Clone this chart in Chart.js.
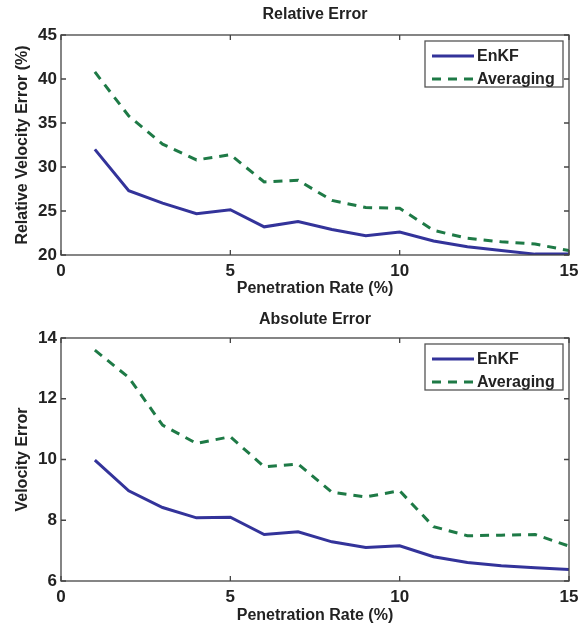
<!DOCTYPE html>
<html>
<head>
<meta charset="utf-8">
<script src="https://cdn.jsdelivr.net/npm/chart.js@4/dist/chart.umd.min.js"></script>
<style>
  html, body { margin: 0; padding: 0; background: #fff; }
  #w1 { position: absolute; left: 0; top: 0; width: 585px; height: 305px; }
  #w2 { position: absolute; left: 0; top: 305px; width: 585px; height: 322px; }
</style>
</head>
<body>
<div id="w1"><canvas id="c1"></canvas></div>
<div id="w2"><canvas id="c2"></canvas></div>
<script>
// ---- data ----
const penetrationRate = [1, 2, 3, 4, 5, 6, 7, 8, 9, 10, 11, 12, 13, 14, 15];
const relEnKF      = [32.0, 27.3, 25.9, 24.7, 25.15, 23.2, 23.8, 22.9, 22.2, 22.6, 21.6, 20.95, 20.5, 20.1, 20.1];
const relAveraging = [40.8, 35.8, 32.6, 30.8, 31.4, 28.3, 28.5, 26.2, 25.4, 25.3, 22.8, 21.9, 21.5, 21.25, 20.5];
const absEnKF      = [9.98, 8.97, 8.42, 8.08, 8.1, 7.53, 7.62, 7.29, 7.1, 7.16, 6.8, 6.61, 6.5, 6.44, 6.38];
const absAveraging = [13.6, 12.7, 11.13, 10.53, 10.75, 9.76, 9.85, 8.92, 8.77, 8.97, 7.79, 7.49, 7.51, 7.53, 7.15];
const seriesNames = ['EnKF', 'Averaging'];
const xTitle = 'Penetration Rate (%)';

const FONT = "'Liberation Sans', Arial, sans-serif";
const BLUE = '#33339a';
const GREEN = '#1e7a46';

function pts(ys) { return penetrationRate.map((x, i) => ({ x: x, y: ys[i] })); }

const framePlugin = {
  id: 'frame',
  afterDraw(chart, args, opts) {
    const ctx = chart.ctx, a = chart.chartArea;
    ctx.save();
    // title
    ctx.fillStyle = '#222';
    ctx.font = 'bold 16px ' + FONT;
    ctx.textAlign = 'center';
    ctx.textBaseline = 'middle';
    ctx.fillText(opts.title, (a.left + a.right) / 2, opts.titleY);
    // box
    ctx.strokeStyle = '#444';
    ctx.lineWidth = 1.3;
    ctx.strokeRect(a.left, a.top, a.right - a.left, a.bottom - a.top);
    // inward ticks
    const xs = chart.scales.x, ys = chart.scales.y;
    ctx.beginPath();
    xs.ticks.forEach(t => {
      const p = xs.getPixelForValue(t.value);
      ctx.moveTo(p, a.bottom); ctx.lineTo(p, a.bottom - 5);
      ctx.moveTo(p, a.top); ctx.lineTo(p, a.top + 5);
    });
    ys.ticks.forEach(t => {
      const p = ys.getPixelForValue(t.value);
      ctx.moveTo(a.left, p); ctx.lineTo(a.left + 5, p);
      ctx.moveTo(a.right, p); ctx.lineTo(a.right - 5, p);
    });
    ctx.stroke();
    // legend
    const bx = a.right - 144, by = a.top + 6, bw = 138, bh = 46;
    ctx.fillStyle = '#fff';
    ctx.fillRect(bx, by, bw, bh);
    ctx.strokeStyle = '#555';
    ctx.lineWidth = 1.3;
    ctx.strokeRect(bx, by, bw, bh);
    const ds = chart.data.datasets;
    ds.forEach((d, i) => {
      const y = by + 15 + i * 23;
      ctx.beginPath();
      ctx.strokeStyle = d.borderColor;
      ctx.lineWidth = 3;
      ctx.setLineDash(d.borderDash || []);
      ctx.moveTo(bx + 7, y); ctx.lineTo(bx + 49, y);
      ctx.stroke();
      ctx.setLineDash([]);
      ctx.fillStyle = '#222';
      ctx.font = 'bold 16px ' + FONT;
      ctx.textAlign = 'left';
      ctx.textBaseline = 'middle';
      ctx.fillText(d.label, bx + 52, y + 1);
    });
    ctx.restore();
  }
};

function makeChart(id, a, b, yMin, yMax, yStep, yTitle, title, cfg) {
  return new Chart(document.getElementById(id), {
    type: 'line',
    data: {
      datasets: [
        { label: seriesNames[0], data: pts(a), borderColor: BLUE, borderWidth: 3, pointRadius: 0, fill: false, tension: 0 },
        { label: seriesNames[1], data: pts(b), borderColor: GREEN, borderWidth: 3, borderDash: [9, 7], pointRadius: 0, fill: false, tension: 0 }
      ]
    },
    options: {
      responsive: true,
      maintainAspectRatio: false,
      animation: false,
      layout: { padding: { top: cfg.top, right: 16, bottom: 0, left: 0 } },
      plugins: {
        legend: { display: false },
        tooltip: { enabled: false },
        title: { display: false },
        frame: { title: title, titleY: cfg.titleY }
      },
      scales: {
        x: {
          type: 'linear', min: 0, max: 15,
          ticks: { stepSize: 5, color: '#222', font: { family: FONT, size: 17, weight: 'bold' }, padding: 6, maxRotation: 0 },
          grid: { display: false, drawTicks: false },
          border: { display: false },
          title: { display: true, text: xTitle, color: '#222', font: { family: FONT, size: 16, weight: 'bold' }, padding: { top: 0, bottom: cfg.xtPad } },
          afterFit(s) { s.height = cfg.xh; }
        },
        y: {
          min: yMin, max: yMax,
          ticks: { stepSize: yStep, color: '#222', font: { family: FONT, size: 17, weight: 'bold' }, padding: 4 },
          grid: { display: false, drawTicks: false },
          border: { display: false },
          title: { display: true, text: yTitle, color: '#222', font: { family: FONT, size: 16, weight: 'bold' }, padding: { top: 13, bottom: 0 } },
          afterFit(s) { s.width = 61; }
        }
      }
    },
    plugins: [framePlugin]
  });
}

makeChart('c1', relEnKF, relAveraging, 20, 45, 5, 'Relative Velocity Error (%)', 'Relative Error',
  { top: 35, xh: 50, xtPad: 7, titleY: 15 });
makeChart('c2', absEnKF, absAveraging, 6, 14, 2, 'Velocity Error', 'Absolute Error',
  { top: 33, xh: 46, xtPad: 2, titleY: 15 });
</script>
</body>
</html>
